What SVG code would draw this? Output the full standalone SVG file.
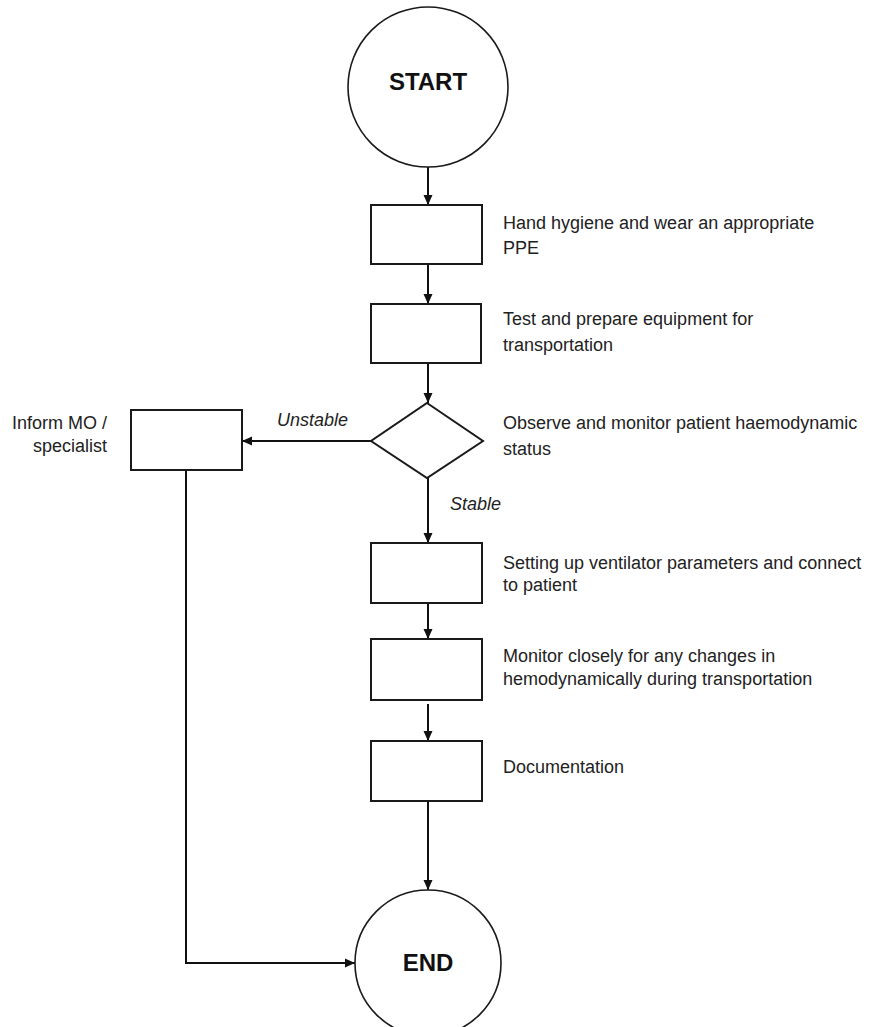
<svg xmlns="http://www.w3.org/2000/svg" width="883" height="1027" viewBox="0 0 883 1027">
<style>
.shape{fill:#fff;stroke:#1a1a1a;stroke-width:2}
.circ{fill:#fff;stroke:#1a1a1a;stroke-width:1.6}
.lbl{font-family:"Liberation Sans",Arial,sans-serif;font-size:18px;fill:#222}
.it{font-style:italic}
.big{font-family:"Liberation Sans",Arial,sans-serif;font-size:24px;font-weight:bold;fill:#111;text-anchor:middle}
.conn{fill:none;stroke:#111;stroke-width:2}
</style>
<defs>
<marker id="arr" viewBox="0 0 10 10" refX="10" refY="5" markerWidth="10" markerHeight="10" markerUnits="userSpaceOnUse" orient="auto">
<path d="M0,0.5 L10,5 L0,9.5 Z" fill="#111"/>
</marker>
</defs>
<rect width="883" height="1027" fill="#fff"/>
<g id="connectors">
<line class="conn" x1="428" y1="167" x2="428" y2="205" marker-end="url(#arr)"/>
<line class="conn" x1="428" y1="264" x2="428" y2="304" marker-end="url(#arr)"/>
<line class="conn" x1="428" y1="363" x2="428" y2="403" marker-end="url(#arr)"/>
<line class="conn" x1="371" y1="441" x2="242" y2="441" marker-end="url(#arr)"/>
<line class="conn" x1="428" y1="478" x2="428" y2="543" marker-end="url(#arr)"/>
<line class="conn" x1="428" y1="603" x2="428" y2="639" marker-end="url(#arr)"/>
<line class="conn" x1="428" y1="704" x2="428" y2="741" marker-end="url(#arr)"/>
<line class="conn" x1="428" y1="801" x2="428" y2="890" marker-end="url(#arr)"/>
<polyline class="conn" points="186,470 186,963 355,963" marker-end="url(#arr)"/>
<text class="lbl it" x="277" y="426">Unstable</text>
<text class="lbl it" x="450" y="510">Stable</text>
</g>
<g id="start">
<circle class="circ" cx="428" cy="87" r="80"/>
<text class="big" x="428" y="90">START</text>
</g>
<g id="hand-hygiene">
<rect class="shape" x="371" y="205" width="111" height="59"/>
<text class="lbl" x="503" y="229">Hand hygiene and wear an appropriate</text>
<text class="lbl" x="503" y="254">PPE</text>
</g>
<g id="test-equipment">
<rect class="shape" x="371" y="304" width="110" height="59"/>
<text class="lbl" x="503" y="325">Test and prepare equipment for</text>
<text class="lbl" x="503" y="351">transportation</text>
</g>
<g id="observe">
<polygon class="shape" points="427,403 483,441 427,478 371,441"/>
<text class="lbl" x="503" y="429">Observe and monitor patient haemodynamic</text>
<text class="lbl" x="503" y="455">status</text>
</g>
<g id="inform">
<rect class="shape" x="131" y="410" width="111" height="60"/>
<text class="lbl" x="12" y="429">Inform MO /</text>
<text class="lbl" x="33" y="452">specialist</text>
</g>
<g id="ventilator">
<rect class="shape" x="371" y="543" width="111" height="60"/>
<text class="lbl" x="503" y="569">Setting up ventilator parameters and connect</text>
<text class="lbl" x="503" y="591">to patient</text>
</g>
<g id="monitor">
<rect class="shape" x="371" y="639" width="111" height="61"/>
<text class="lbl" x="503" y="662">Monitor closely for any changes in</text>
<text class="lbl" x="503" y="685">hemodynamically during transportation</text>
</g>
<g id="documentation">
<rect class="shape" x="371" y="741" width="111" height="60"/>
<text class="lbl" x="503" y="773">Documentation</text>
</g>
<g id="end">
<circle class="circ" cx="428" cy="963" r="73"/>
<text class="big" x="428" y="971">END</text>
</g>
</svg>
